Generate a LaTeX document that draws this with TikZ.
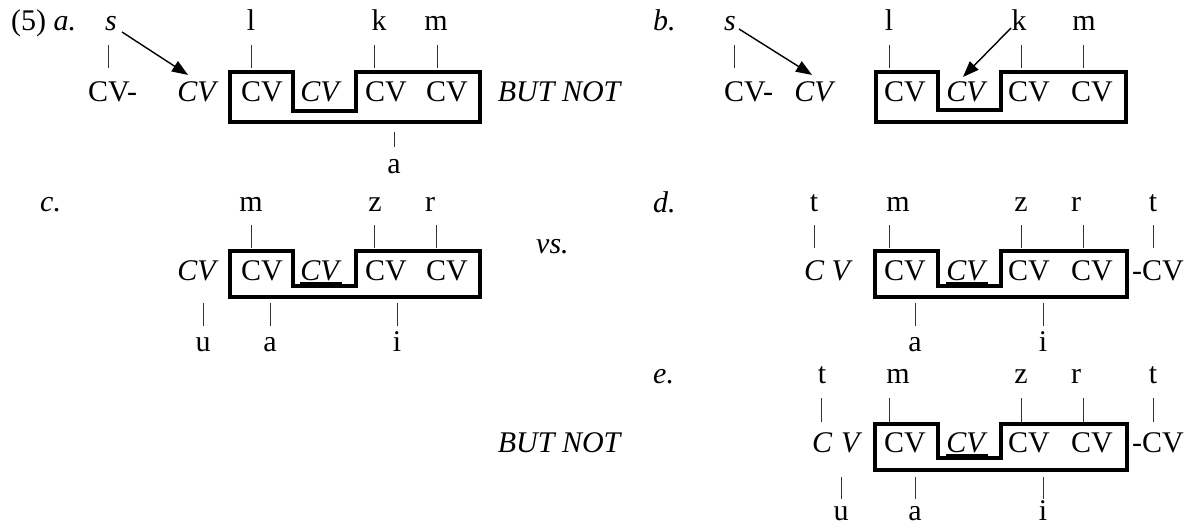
\documentclass[tikz,border=0pt]{standalone}
\usepackage{fontspec}
\setmainfont{Liberation Serif}
\usetikzlibrary{arrows.meta}
\begin{document}
\begin{tikzpicture}[x=1pt,y=-1pt,
  every node/.style={font=\fontsize{30}{36}\selectfont, inner sep=0pt, anchor=base},
  lbl/.style={anchor=base west},
  tie/.style={line width=0.9pt, black!80},
  seg/.style={line width=3.8pt, line join=miter},
  arr/.style={line width=1.4pt, -{Triangle[length=16pt,width=12pt]}},
  ul/.style={line width=1.2pt}]
\useasboundingbox (0,0) rectangle (1187,527);

% ---------- panel a ----------
\node[lbl] (a5) at (11,31) {(5) \textit{a.}};
\node (as) at (111,31) {\textit{s}};
\node (al) at (251,31) {l};
\node (ak) at (379,31) {k};
\node (am) at (436,31) {m};
\node[lbl] (acv0) at (88,102) {CV-};
\node (acv1) at (198,102) {\textit{CV}};
\node (acv2) at (262,102) {CV};
\node (acv3) at (321,102) {\textit{CV}};
\node (acv4) at (386,102) {CV};
\node (acv5) at (447,102) {CV};
\node (aa) at (394,173) {a};
\node (abn) at (560,102) {\textit{BUT NOT}};
\draw[seg] (230,72) -- (293,72) -- (293,111) -- (356,111) -- (356,72) -- (480,72) -- (480,122) -- (230,122) -- cycle;
\draw[tie] (as.base) ++(-3,14) -- ++(0,23);
\draw[tie] (al.base) ++(0,14) -- ++(0,23);
\draw[tie] (ak.base) ++(-5,14) -- ++(0,23);
\draw[tie] (am.base) ++(1,14) -- ++(0,23);
\draw[tie] (aa.base) ++(0,-41) -- ++(0,15);
\draw[arr] ([xshift=11pt,yshift=-1pt]as.base) -- ([xshift=-10pt,yshift=7pt]acv1.north);

% ---------- panel b ----------
\node[lbl] (bl) at (653,31) {\textit{b.}};
\node (bs) at (730,31) {\textit{s}};
\node (bll) at (889,31) {l};
\node (bk) at (1019,31) {k};
\node (bm) at (1084,31) {m};
\node[lbl] (bcv0) at (724,102) {CV-};
\node (bcv1) at (815,102) {\textit{CV}};
\node (bcv2) at (905,102) {CV};
\node (bcv3) at (967,102) {\textit{CV}};
\node (bcv4) at (1029,102) {CV};
\node (bcv5) at (1092,102) {CV};
\draw[seg] (876,72) -- (938,72) -- (938,110) -- (1001,110) -- (1001,72) -- (1126,72) -- (1126,122) -- (876,122) -- cycle;
\draw[tie] (bs.base) ++(4,14) -- ++(0,23);
\draw[tie] (bll.base) ++(0,14) -- ++(0,23);
\draw[tie] (bk.base) ++(2,14) -- ++(0,23);
\draw[tie] (bm.base) ++(-1,14) -- ++(0,23);
\draw[arr] ([xshift=9pt,yshift=2pt]bs.base) -- ([xshift=-3pt,yshift=7pt]bcv1.north);
\draw[arr] ([xshift=-8pt,yshift=3pt]bk.base) -- ([xshift=-4pt,yshift=5pt]bcv3.north);

% ---------- panel c ----------
\node[lbl] (cl) at (40,211) {\textit{c.}};
\node (cm) at (251,211) {m};
\node (cz) at (375,211) {z};
\node (cr) at (430,211) {r};
\node (ccv1) at (198,280) {\textit{CV}};
\node (ccv2) at (262,280) {CV};
\node (ccv3) at (321,280) {\textit{CV}};
\node (ccv4) at (386,280) {CV};
\node (ccv5) at (447,280) {CV};
\node (cu) at (203,351) {u};
\node (ca) at (270,351) {a};
\node (ci) at (397,351) {i};
\node[lbl] (cvs) at (536,253) {\textit{vs.}};
\draw[seg] (230,251) -- (293,251) -- (293,286) -- (356,286) -- (356,251) -- (480,251) -- (480,297) -- (230,297) -- cycle;
\draw[ul] ([yshift=-3pt]ccv3.base west) -- ([yshift=-3pt]ccv3.base east);
\draw[tie] (cm.base) ++(0,14) -- ++(0,23);
\draw[tie] (cz.base) ++(-1,14) -- ++(0,23);
\draw[tie] (cr.base) ++(6,14) -- ++(0,23);
\draw[tie] (cu.base) ++(0,-48) -- ++(0,23);
\draw[tie] (ca.base) ++(0,-48) -- ++(0,23);
\draw[tie] (ci.base) ++(0,-48) -- ++(0,23);

% ---------- panel d ----------
\node[lbl] (dl) at (653,212) {\textit{d.}};
\node (dt1) at (814,211) {t};
\node (dm) at (898,211) {m};
\node (dz) at (1021,211) {z};
\node (dr) at (1076,211) {r};
\node (dt2) at (1153,211) {t};
\node[lbl] (dcv1) at (804,280) {\textit{C V}};
\node (dcv2) at (905,280) {CV};
\node (dcv3) at (967,280) {\textit{CV}};
\node (dcv4) at (1029,280) {CV};
\node (dcv5) at (1092,280) {CV};
\node[lbl] (dcv6) at (1132,280) {-CV};
\node (da) at (915,351) {a};
\node (di) at (1043,351) {i};
\draw[seg] (875,251) -- (938,251) -- (938,286) -- (1001,286) -- (1001,251) -- (1127,251) -- (1127,297) -- (875,297) -- cycle;
\draw[ul] ([yshift=-3pt]dcv3.base west) -- ([yshift=-3pt]dcv3.base east);
\draw[tie] (dt1.base) ++(0,14) -- ++(0,23);
\draw[tie] (dm.base) ++(-9,14) -- ++(0,23);
\draw[tie] (dz.base) ++(0,14) -- ++(0,23);
\draw[tie] (dr.base) ++(7,14) -- ++(0,23);
\draw[tie] (dt2.base) ++(0,14) -- ++(0,23);
\draw[tie] (da.base) ++(0,-48) -- ++(0,23);
\draw[tie] (di.base) ++(0,-48) -- ++(0,23);

% ---------- panel e ----------
\node[lbl] (el) at (653,383) {\textit{e.}};
\node (et1) at (822,383) {t};
\node (em) at (898,383) {m};
\node (ez) at (1021,383) {z};
\node (er) at (1076,383) {r};
\node (et2) at (1153,383) {t};
\node (ebn) at (560,452) {\textit{BUT NOT}};
\node[lbl] (ecv1) at (812,452) {\textit{C\hspace{0.3em}V}};
\node (ecv2) at (905,452) {CV};
\node (ecv3) at (967,452) {\textit{CV}};
\node (ecv4) at (1029,452) {CV};
\node (ecv5) at (1092,452) {CV};
\node[lbl] (ecv6) at (1132,452) {-CV};
\node (eu) at (841,520) {u};
\node (ea) at (915,520) {a};
\node (ei) at (1043,520) {i};
\draw[seg] (875,424) -- (938,424) -- (938,458) -- (1001,458) -- (1001,424) -- (1127,424) -- (1127,470) -- (875,470) -- cycle;
\draw[ul] ([yshift=-3pt]ecv3.base west) -- ([yshift=-3pt]ecv3.base east);
\draw[tie] (et1.base) ++(-1,15) -- ++(0,24);
\draw[tie] (em.base) ++(-9,15) -- ++(0,24);
\draw[tie] (ez.base) ++(0,15) -- ++(0,24);
\draw[tie] (er.base) ++(7,15) -- ++(0,24);
\draw[tie] (et2.base) ++(0,15) -- ++(0,24);
\draw[tie] (eu.base) ++(0,-43) -- ++(0,22);
\draw[tie] (ea.base) ++(0,-43) -- ++(0,22);
\draw[tie] (ei.base) ++(0,-43) -- ++(0,22);
\end{tikzpicture}
\end{document}
